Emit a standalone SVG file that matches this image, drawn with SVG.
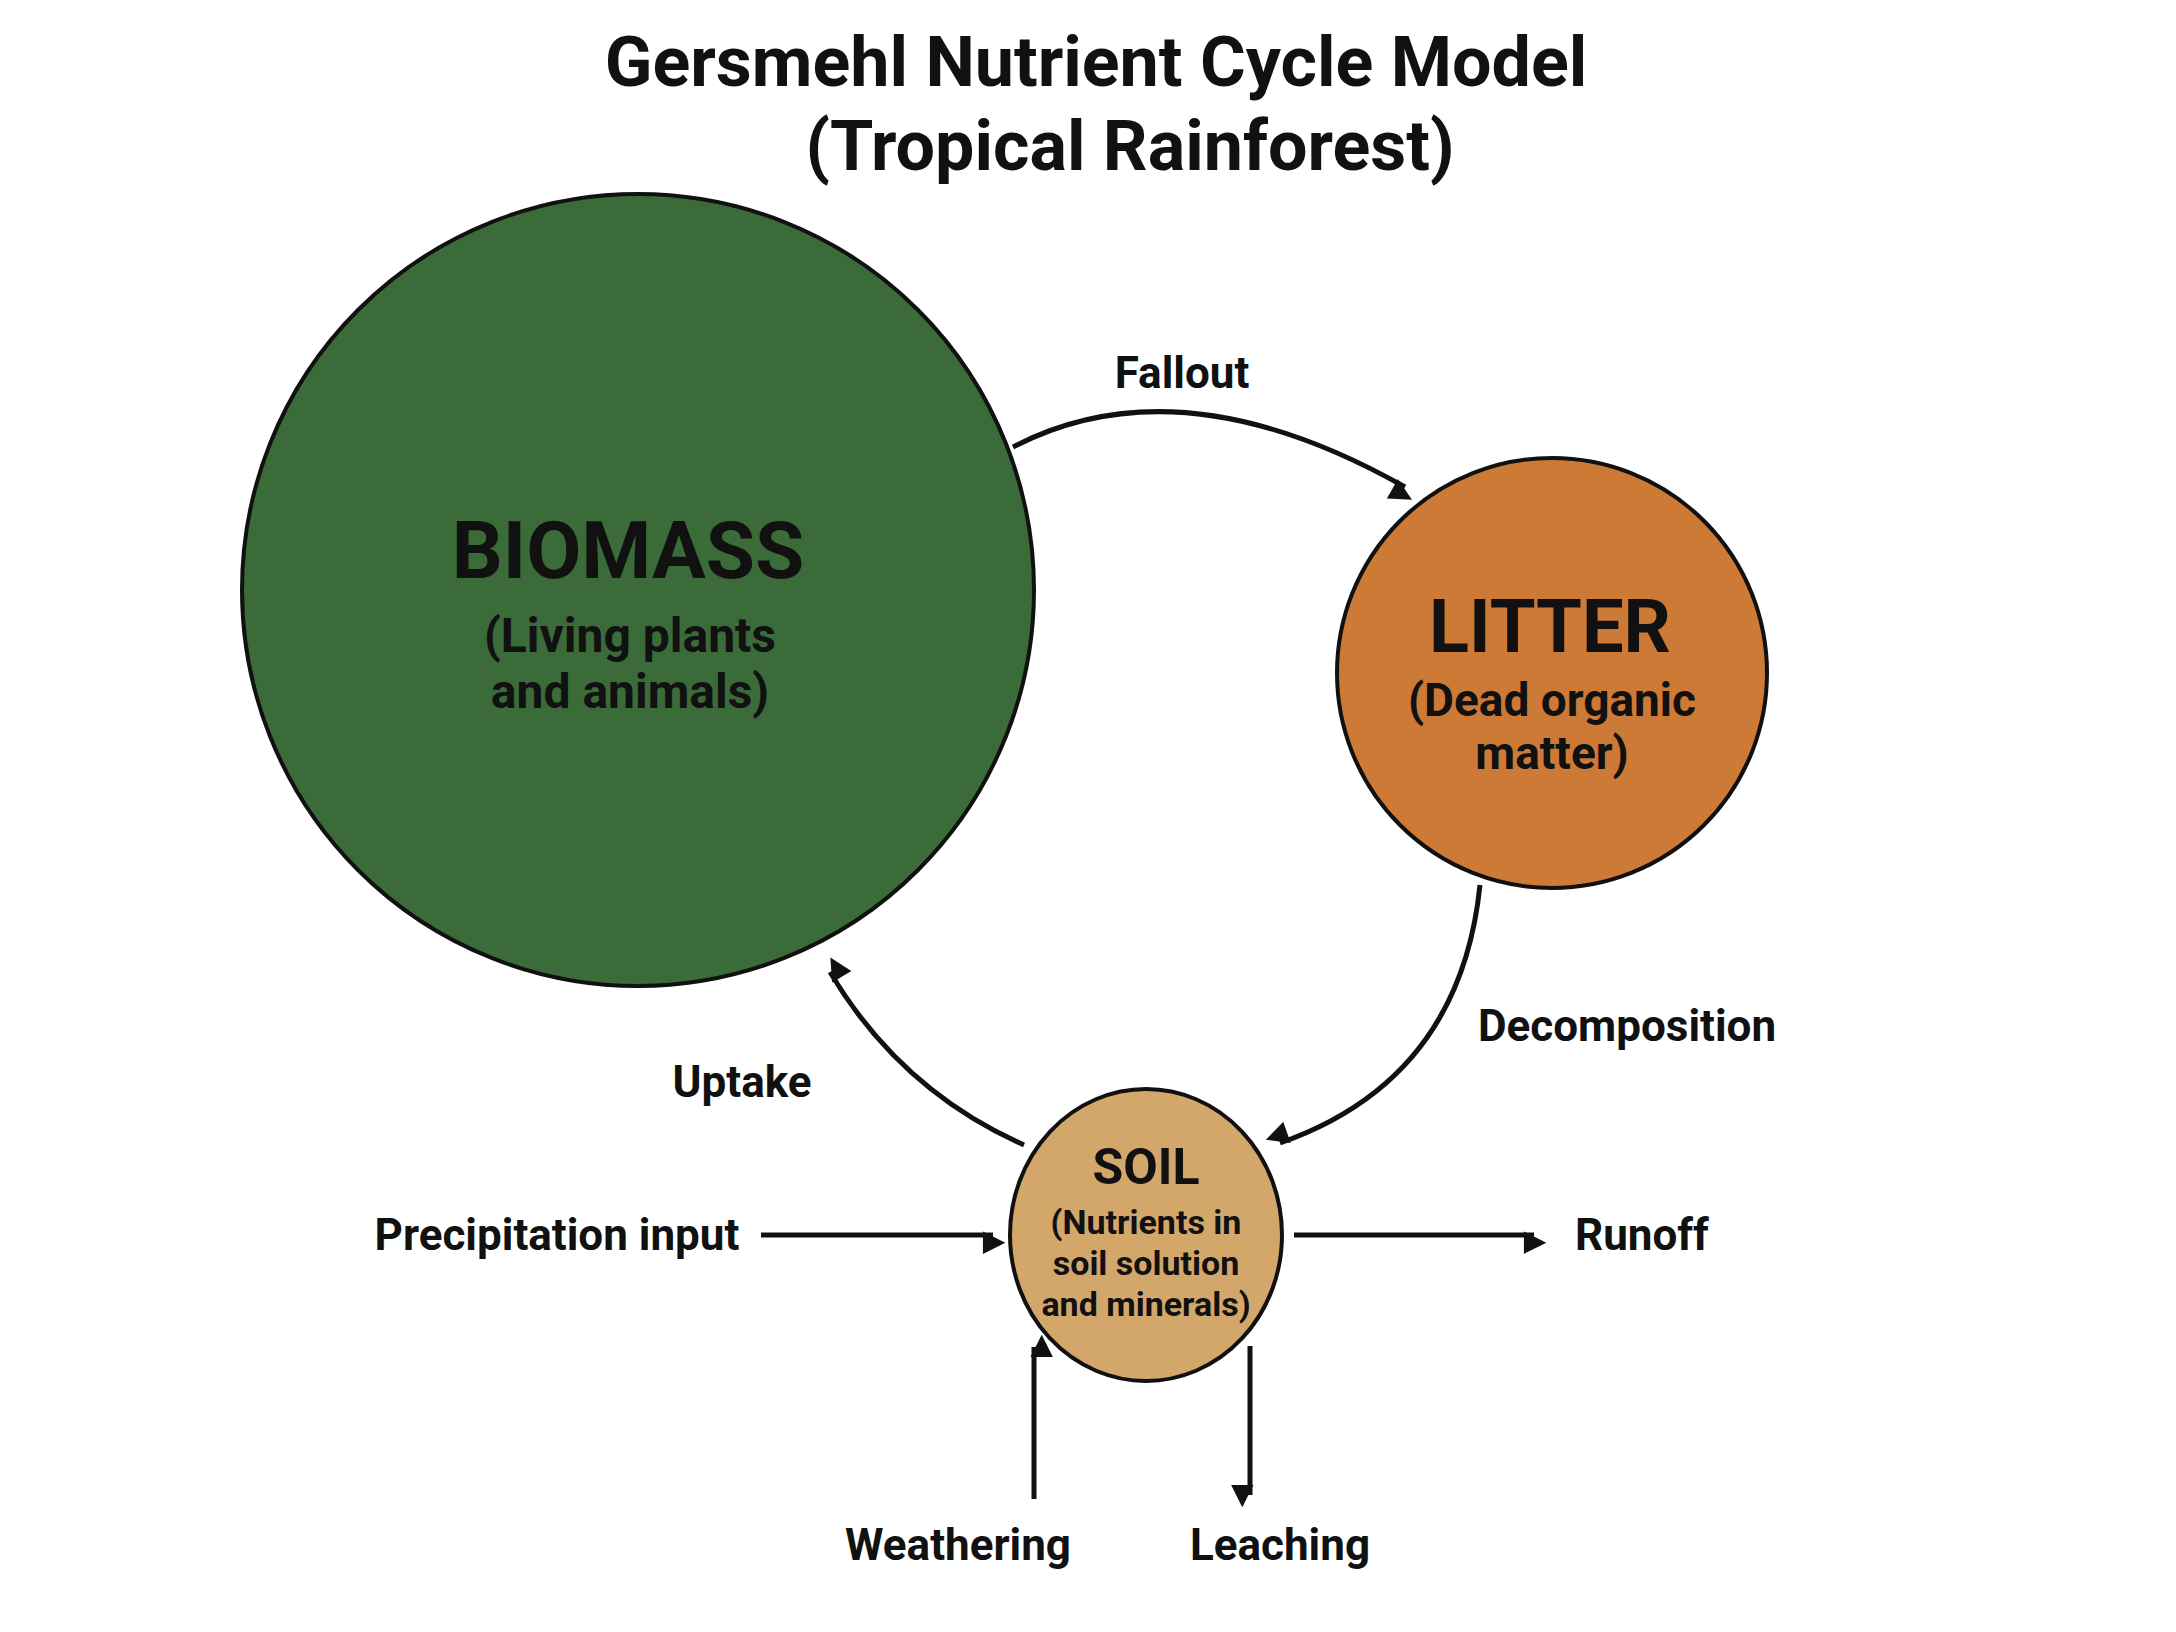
<svg xmlns="http://www.w3.org/2000/svg" width="2176" height="1632" viewBox="0 0 2176 1632">
<style>
text{font-family:Roboto,"Liberation Sans",sans-serif;font-weight:bold;fill:#111;text-anchor:middle}
.t{font-size:70px}
.lbl{font-size:44px}
.c{stroke:#111;stroke-width:4}
.e{fill:none;stroke:#111;stroke-width:5;marker-end:url(#ah)}
</style>
<defs><marker id="ah" viewBox="0 0 10 10" refX="8" refY="5" markerWidth="7" markerHeight="7" orient="auto" markerUnits="userSpaceOnUse" style="overflow:visible"><path d="M0,0 L10,5 L0,10 z" fill="#111" transform="scale(3.2) translate(-2,-0)"/></marker></defs>
<rect width="2176" height="1632" fill="#fff"/>
<text class="t" x="1096" y="86">Gersmehl Nutrient Cycle Model</text>
<text class="t" x="1130" y="170">(Tropical Rainforest)</text>
<g id="biomass"><circle class="c" cx="638" cy="590" r="396" fill="#3b6b39"/>
<text x="628" y="578" font-size="80">BIOMASS</text>
<text x="630" y="652" font-size="48">(Living plants</text>
<text x="630" y="708" font-size="48">and animals)</text></g>
<g id="litter"><circle class="c" cx="1552" cy="673" r="215" fill="#cc7a36"/>
<text x="1550" y="652" font-size="74">LITTER</text>
<text x="1552" y="716" font-size="46">(Dead organic</text>
<text x="1552" y="769" font-size="46">matter)</text></g>
<g id="soil"><ellipse class="c" cx="1146" cy="1235" rx="136" ry="146" fill="#d3a66a"/>
<text x="1146" y="1184" font-size="50">SOIL</text>
<text x="1146" y="1234" font-size="34">(Nutrients in</text>
<text x="1146" y="1275" font-size="34">soil solution</text>
<text x="1146" y="1316" font-size="34">and minerals)</text></g>
<g id="connectors">
<path class="e" d="M1013,447 Q1180,360 1405,487"/>
<path class="e" d="M1480,885 Q1460,1080 1280,1143"/>
<path class="e" d="M1024,1145 Q900,1090 830,972"/>
<path class="e" d="M761,1235 L993,1235"/>
<path class="e" d="M1294,1235 L1534,1235"/>
<path class="e" d="M1034,1499 L1034,1347"/>
<path class="e" d="M1250,1346 L1250,1495"/>
</g>
<g id="labels" class="lbl">
<text class="lbl" x="1182" y="388">Fallout</text>
<text class="lbl" x="1478" y="1041" style="text-anchor:start">Decomposition</text>
<text class="lbl" x="742" y="1097">Uptake</text>
<text class="lbl" x="557" y="1250">Precipitation input</text>
<text class="lbl" x="1575" y="1250" style="text-anchor:start">Runoff</text>
<text class="lbl" x="958" y="1560">Weathering</text>
<text class="lbl" x="1280" y="1560">Leaching</text>
</g>
</svg>
